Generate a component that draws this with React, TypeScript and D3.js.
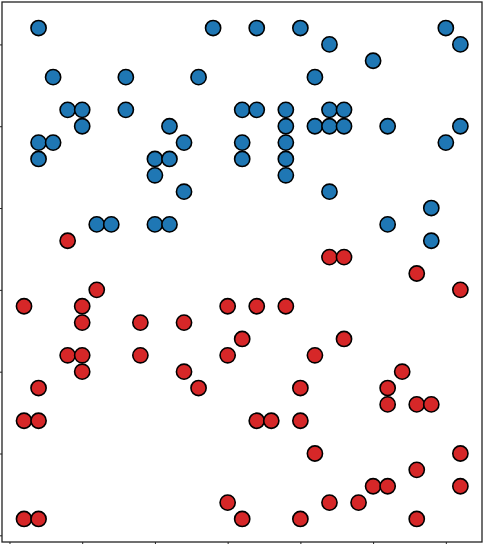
import React, { useRef, useEffect } from 'react';
import { select, scaleLinear, axisLeft, axisBottom } from 'd3';

// grid positions (column, row)
const blueX = [2, 14, 3, 8, 13, 4, 5, 8, 16, 5, 11, 2, 3, 12, 16, 2, 10, 11, 16, 10, 12, 6, 7, 10, 11,
  17, 20, 30, 31, 22, 25, 21, 17, 19, 22, 23, 19, 21, 22, 23, 26, 31, 19, 30, 19, 19, 22, 29, 26, 29];
const blueY = [31, 31, 28, 28, 28, 26, 26, 26, 26, 25, 25, 24, 24, 24, 24, 23, 23, 23, 23, 22, 21, 19, 19, 19, 19,
  31, 31, 31, 30, 30, 29, 28, 26, 26, 26, 26, 25, 25, 25, 25, 25, 25, 24, 24, 23, 22, 21, 20, 19, 18];

const redX = [4, 22, 23, 28, 6, 31, 1, 5, 15, 17, 19, 5, 9, 12, 16, 23, 4, 5, 9, 15, 21, 5, 12, 27, 2,
  13, 20, 26, 26, 28, 29, 1, 2, 17, 18, 20, 21, 31, 28, 25, 26, 31, 15, 22, 24, 1, 2, 16, 20, 28];
const redY = [18, 17, 17, 16, 15, 15, 14, 14, 14, 14, 14, 13, 13, 13, 12, 12, 11, 11, 11, 11, 11, 10, 10, 10, 9,
  9, 9, 9, 8, 8, 8, 7, 7, 7, 7, 7, 5, 5, 4, 3, 3, 3, 2, 2, 2, 1, 1, 1, 1, 1];

const xTicks = [0, 5, 10, 15, 20, 25, 30];
const yTicks = [0, 5, 10, 15, 20, 25, 30];

const W = 484;
const H = 544;
const margin = { top: 2, right: 2, bottom: 2, left: 2 };

const App = () => {
  const xAxisRef = useRef(null);
  const yAxisRef = useRef(null);

  const xScale = scaleLinear().domain([-0.5, 32.5]).range([margin.left + 0.2, W - margin.right + 0.2]);
  const yScale = scaleLinear().domain([-0.5, 32.5]).range([H - margin.bottom + 1.5, margin.top + 1.5]);

  useEffect(() => {
    document.body.style.margin = '0';
    const xAxis = axisBottom(xScale).tickValues(xTicks).tickFormat(() => '').tickSize(3.5).tickSizeOuter(0);
    const yAxis = axisLeft(yScale).tickValues(yTicks).tickFormat(() => '').tickSize(3.5).tickSizeOuter(0);
    select(xAxisRef.current).call(xAxis).call(g => g.select('.domain').remove());
    select(yAxisRef.current).call(yAxis).call(g => g.select('.domain').remove());
    select(xAxisRef.current).selectAll('line').attr('stroke', '#222').attr('stroke-width', 1);
    select(yAxisRef.current).selectAll('line').attr('stroke', '#222').attr('stroke-width', 1);
  }, []);

  const blue = blueX.map((x, i) => ({ x, y: blueY[i] }));
  const red = redX.map((x, i) => ({ x, y: redY[i] }));

  return (
    <svg width={W} height={H} style={{ display: 'block', background: '#fff' }}>
      <g>
        {blue.map((d, i) => (
          <circle key={'b' + i} cx={xScale(d.x)} cy={yScale(d.y)} r={7.6}
            fill="#1f77b4" stroke="#000" strokeWidth={1.6} />
        ))}
        {red.map((d, i) => (
          <circle key={'r' + i} cx={xScale(d.x)} cy={yScale(d.y)} r={7.6}
            fill="#d62728" stroke="#000" strokeWidth={1.6} />
        ))}
      </g>
      <rect x={margin.left} y={margin.top} width={W - margin.left - margin.right}
        height={H - margin.top - margin.bottom} fill="none" stroke="#222" strokeWidth={1.3} />
      <g ref={xAxisRef} transform={`translate(0, ${H - margin.bottom})`} />
      <g ref={yAxisRef} transform={`translate(${margin.left}, 0)`} />
    </svg>
  );
};

export default App;
